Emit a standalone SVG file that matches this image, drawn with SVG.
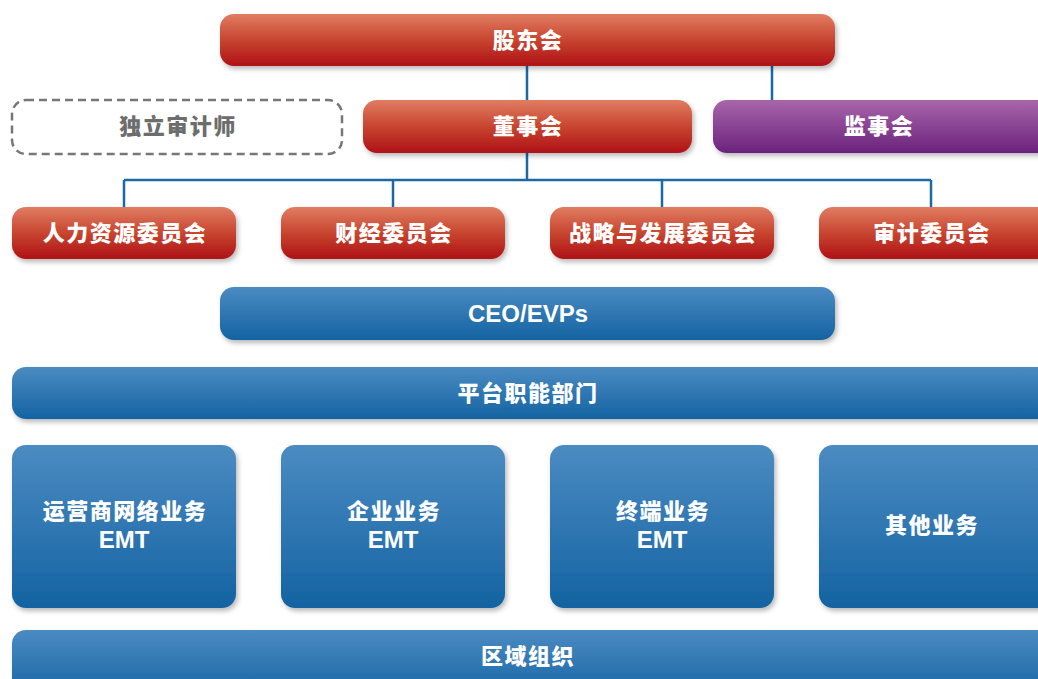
<svg xmlns="http://www.w3.org/2000/svg" width="1038" height="679" viewBox="0 0 1038 679">
<defs>
<linearGradient id="gRed" x1="0" y1="0" x2="0" y2="1">
<stop offset="0" stop-color="#e07d62"/>
<stop offset="0.5" stop-color="#c8452f"/>
<stop offset="1" stop-color="#af1117"/>
</linearGradient>
<linearGradient id="gPur" x1="0" y1="0" x2="0" y2="1">
<stop offset="0" stop-color="#a866aa"/>
<stop offset="1" stop-color="#6a227c"/>
</linearGradient>
<linearGradient id="gBlue" x1="0" y1="0" x2="0" y2="1">
<stop offset="0" stop-color="#4b8bc2"/>
<stop offset="1" stop-color="#1463a2"/>
</linearGradient>
<filter id="sh" x="-10%" y="-20%" width="130%" height="160%">
<feDropShadow dx="2" dy="3" stdDeviation="2.5" flood-color="#000" flood-opacity="0.28"/>
</filter>
</defs>
<style>
.red{fill:url(#gRed);filter:url(#sh)}
.pur{fill:url(#gPur);filter:url(#sh)}
.blue{fill:url(#gBlue);filter:url(#sh)}
.t{font-family:"Noto Sans CJK SC",sans-serif;font-weight:900;font-size:22px;fill:#fff;text-anchor:middle;letter-spacing:1.5px}
.e{font-family:"Liberation Sans",sans-serif;font-weight:bold;font-size:24px;fill:#fff;text-anchor:middle}
.g{fill:#6d6d6d}
.ln{stroke:#1d69a6;stroke-width:2.5;fill:none}
</style>
<rect width="1038" height="679" fill="#fff"/>
<g id="connectors">
<path class="ln" d="M527 66V100M772 66V100M527 153V180M124 180H931M124 180V207M393 180V207M662 180V207M931 180V207"/>
</g>
<g id="shareholders"><rect class="red" x="220" y="14" width="615" height="52" rx="14"/><text class="t" x="528" y="48">股东会</text></g>
<g id="auditor"><rect x="12" y="100" width="330" height="54" rx="14" fill="none" stroke="#777" stroke-width="2.5" stroke-dasharray="8 5"/><text class="t g" x="178" y="134">独立审计师</text></g>
<g id="board"><rect class="red" x="363" y="100" width="329" height="53" rx="14"/><text class="t" x="528" y="134">董事会</text></g>
<g id="supervisors"><rect class="pur" x="713" y="100" width="340" height="53" rx="14"/><text class="t" x="879" y="134">监事会</text></g>
<g id="hr"><rect class="red" x="12" y="207" width="224" height="52" rx="14"/><text class="t" x="125" y="241">人力资源委员会</text></g>
<g id="finance"><rect class="red" x="281" y="207" width="224" height="52" rx="14"/><text class="t" x="394" y="241">财经委员会</text></g>
<g id="strategy"><rect class="red" x="550" y="207" width="224" height="52" rx="14"/><text class="t" x="663" y="241">战略与发展委员会</text></g>
<g id="audit"><rect class="red" x="819" y="207" width="234" height="52" rx="14"/><text class="t" x="932" y="241">审计委员会</text></g>
<g id="ceo"><rect class="blue" x="220" y="287" width="615" height="53" rx="14"/><text class="e" x="528" y="322">CEO/EVPs</text></g>
<g id="platform"><rect class="blue" x="12" y="367" width="1040" height="52" rx="14"/><text class="t" x="528" y="401">平台职能部门</text></g>
<g id="carrier"><rect class="blue" x="12" y="445" width="224" height="163" rx="14"/><text class="t" x="125" y="519">运营商网络业务</text><text class="e" x="124" y="548">EMT</text></g>
<g id="enterprise"><rect class="blue" x="281" y="445" width="224" height="163" rx="14"/><text class="t" x="394" y="519">企业业务</text><text class="e" x="393" y="548">EMT</text></g>
<g id="consumer"><rect class="blue" x="550" y="445" width="224" height="163" rx="14"/><text class="t" x="663" y="519">终端业务</text><text class="e" x="662" y="548">EMT</text></g>
<g id="other"><rect class="blue" x="819" y="445" width="234" height="163" rx="14"/><text class="t" x="932" y="533">其他业务</text></g>
<g id="region"><rect class="blue" x="12" y="630" width="1040" height="70" rx="14"/><text class="t" x="528" y="664">区域组织</text></g>
</svg>
